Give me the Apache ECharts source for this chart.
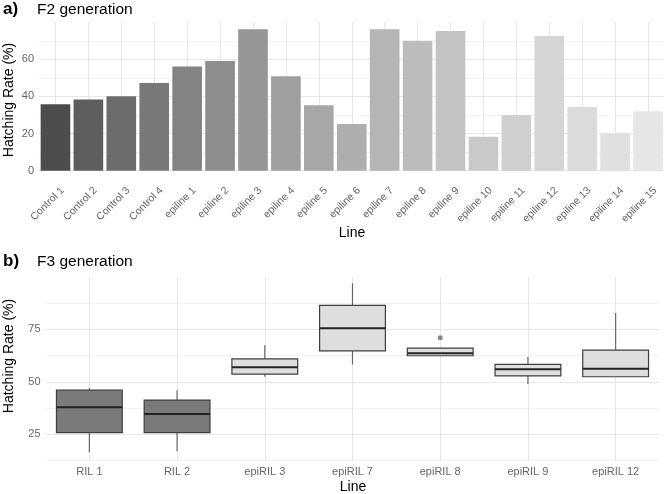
<!DOCTYPE html>
<html>
<head>
<meta charset="utf-8">
<script src="https://cdn.jsdelivr.net/npm/echarts@6/dist/echarts.min.js"></script>
<style>
html,body{margin:0;padding:0;background:#fff;}
#chart{width:669px;height:494px;}
</style>
</head>
<body>
<div id="chart"></div>
<script>
// ---------- Data ----------
const barCategories = ['Control 1','Control 2','Control 3','Control 4','epiline 1','epiline 2','epiline 3','epiline 4','epiline 5','epiline 6','epiline 7','epiline 8','epiline 9','epiline 10','epiline 11','epiline 12','epiline 13','epiline 14','epiline 15'];
const barValues = [35.8,38.3,40.1,47.3,56.2,59.1,76.2,50.9,35.2,25.2,76.2,70.0,75.3,18.3,30.0,72.6,34.3,19.9,32.0];

const boxCategories = ['RIL 1','RIL 2','epiRIL 3','epiRIL 7','epiRIL 8','epiRIL 9','epiRIL 12'];
const boxGroup  = ['RIL','RIL','epiRIL','epiRIL','epiRIL','epiRIL','epiRIL'];
const boxMin    = [16.4,16.9,52.4,58.3,62.4,49.0,52.4];
const boxQ1     = [25.8,25.8,53.7,64.7,62.4,52.8,52.4];
const boxMedian = [37.9,34.7,56.9,75.5,63.6,56.0,56.2];
const boxQ3     = [46.0,41.3,60.9,86.4,66.0,58.3,65.1];
const boxMax    = [46.9,46.0,67.4,96.9,66.0,61.8,82.8];
const outliers  = [['epiRIL 8', 71.0]];

const topTicks = [0,20,40,60];
const bottomTicks = [25,50,75];

// ---------- Styles ----------
const FONT = "'Liberation Sans', Arial, sans-serif";
const LABEL_COLOR = '#666666';
const MAJOR = '#e6e6e6', MINOR = '#f2f2f2';

// grey.colors(n, 0.3, 0.9) like ggplot scale_fill_grey
function greyPalette(n, start, end){
  const g = 2.2, a = Math.pow(start,g), b = Math.pow(end,g), out = [];
  for (let i=0;i<n;i++){
    const v = Math.round(Math.pow(a + (b-a)*i/(n-1), 1/g)*255);
    const h = v.toString(16).padStart(2,'0');
    out.push('#'+h+h+h);
  }
  return out;
}
const barColors = greyPalette(barCategories.length, 0.3, 0.9);
const boxFill = {RIL:'#7a7a7a', epiRIL:'#dedede'};

const chart = echarts.init(document.getElementById('chart'), null, {renderer:'canvas'});

const boxData = boxCategories.map((c,i)=>[i, boxMin[i], boxQ1[i], boxMedian[i], boxQ3[i], boxMax[i]]);

const option = {
  backgroundColor:'#ffffff',
  animation:false,
  textStyle:{fontFamily:FONT},
  grid:[
    {left:39, right:4.5, top:22.2, bottom:323.3, containLabel:false, outerBoundsMode:'none'},
    {left:45.5, right:9.5, top:276.8, bottom:33.45, containLabel:false, outerBoundsMode:'none'}
  ],
  xAxis:[
    {type:'category', gridIndex:0, data:barCategories,
     axisLine:{show:false}, axisTick:{show:false},
     splitLine:{show:true, alignWithLabel:true, lineStyle:{color:MAJOR, width:1}},
     axisLabel:{rotate:45, align:'right', verticalAlign:'top', lineHeight:20, margin:11,
       fontSize:10.5, color:LABEL_COLOR, fontFamily:FONT, interval:0}},
    {type:'category', gridIndex:1, data:boxCategories,
     axisLine:{show:false}, axisTick:{show:false},
     splitLine:{show:true, alignWithLabel:true, lineStyle:{color:MAJOR, width:1}},
     axisLabel:{margin:6, fontSize:11, color:LABEL_COLOR, fontFamily:FONT, interval:0}}
  ],
  yAxis:[
    {type:'value', gridIndex:0, min:0, max:80, interval:10,
     axisLine:{show:false}, axisTick:{show:false},
     splitLine:{show:true, lineStyle:{color:[MAJOR,MINOR,MAJOR,MINOR,MAJOR,MINOR,MAJOR,MINOR,'rgba(0,0,0,0)'], width:1}},
     axisLabel:{margin:5, fontSize:11, color:LABEL_COLOR, fontFamily:FONT,
       formatter:(v)=> topTicks.indexOf(v)>=0 ? String(v) : ''}},
    {type:'value', gridIndex:1, min:12.5, max:100, interval:12.5,
     axisLine:{show:false}, axisTick:{show:false},
     splitLine:{show:true, lineStyle:{color:[MINOR,MAJOR,MINOR,MAJOR,MINOR,MAJOR,MINOR,'rgba(0,0,0,0)'], width:1}},
     axisLabel:{margin:5, fontSize:11, color:LABEL_COLOR, fontFamily:FONT,
       formatter:(v)=> bottomTicks.indexOf(v)>=0 ? String(v) : ''}}
  ],
  series:[
    {type:'bar', xAxisIndex:0, yAxisIndex:0, barWidth:'90%',
     data: barValues.map((v,i)=>({value:v, itemStyle:{color:barColors[i]}}))},
    {type:'custom', xAxisIndex:1, yAxisIndex:1, data:boxData,
     encode:{x:0, y:[1,2,3,4,5]},
     renderItem:function(params, api){
       const idx = api.value(0);
       const pMin = api.coord([idx, api.value(1)]);
       const pQ1 = api.coord([idx, api.value(2)]);
       const pMed = api.coord([idx, api.value(3)]);
       const pQ3 = api.coord([idx, api.value(4)]);
       const pMax = api.coord([idx, api.value(5)]);
       const bw = api.size([1,0])[0]*0.75;
       const cx = pMed[0];
       const fill = boxFill[boxGroup[idx]];
       return {type:'group', children:[
         {type:'line', shape:{x1:cx, y1:pMax[1], x2:cx, y2:pQ3[1]}, style:{stroke:'#666', lineWidth:1.2}},
         {type:'line', shape:{x1:cx, y1:pQ1[1], x2:cx, y2:pMin[1]}, style:{stroke:'#666', lineWidth:1.2}},
         {type:'rect', shape:{x:cx-bw/2, y:pQ3[1], width:bw, height:pQ1[1]-pQ3[1]}, style:{fill:fill, stroke:'#3f3f3f', lineWidth:1.2}},
         {type:'line', shape:{x1:cx-bw/2, y1:pMed[1], x2:cx+bw/2, y2:pMed[1]}, style:{stroke:'#222', lineWidth:2}}
       ]};
     }},
    {type:'scatter', xAxisIndex:1, yAxisIndex:1, data:outliers, symbolSize:5,
     itemStyle:{color:'#6e6e6e'}}
  ],
  graphic:[
    {type:'text', left:3, top:1, style:{text:'a)', font:"bold 17px "+FONT, fill:'#000'}},
    {type:'text', left:37, top:2, style:{text:'F2 generation', font:"15.5px "+FONT, fill:'#000'}},
    {type:'text', left:3, top:253, style:{text:'b)', font:"bold 17px "+FONT, fill:'#000'}},
    {type:'text', left:37, top:254, style:{text:'F3 generation', font:"15.5px "+FONT, fill:'#000'}},
    {type:'text', x:9, y:100, rotation:Math.PI/2, style:{text:'Hatching Rate (%)', font:"14px "+FONT, fill:'#000', align:'center', verticalAlign:'middle'}},
    {type:'text', x:9, y:356, rotation:Math.PI/2, style:{text:'Hatching Rate (%)', font:"14px "+FONT, fill:'#000', align:'center', verticalAlign:'middle'}},
    {type:'text', x:352, y:233, style:{text:'Line', font:"14px "+FONT, fill:'#000', align:'center', verticalAlign:'middle'}},
    {type:'text', x:353, y:487, style:{text:'Line', font:"14px "+FONT, fill:'#000', align:'center', verticalAlign:'middle'}}
  ]
};
chart.setOption(option);
</script>
</body>
</html>
